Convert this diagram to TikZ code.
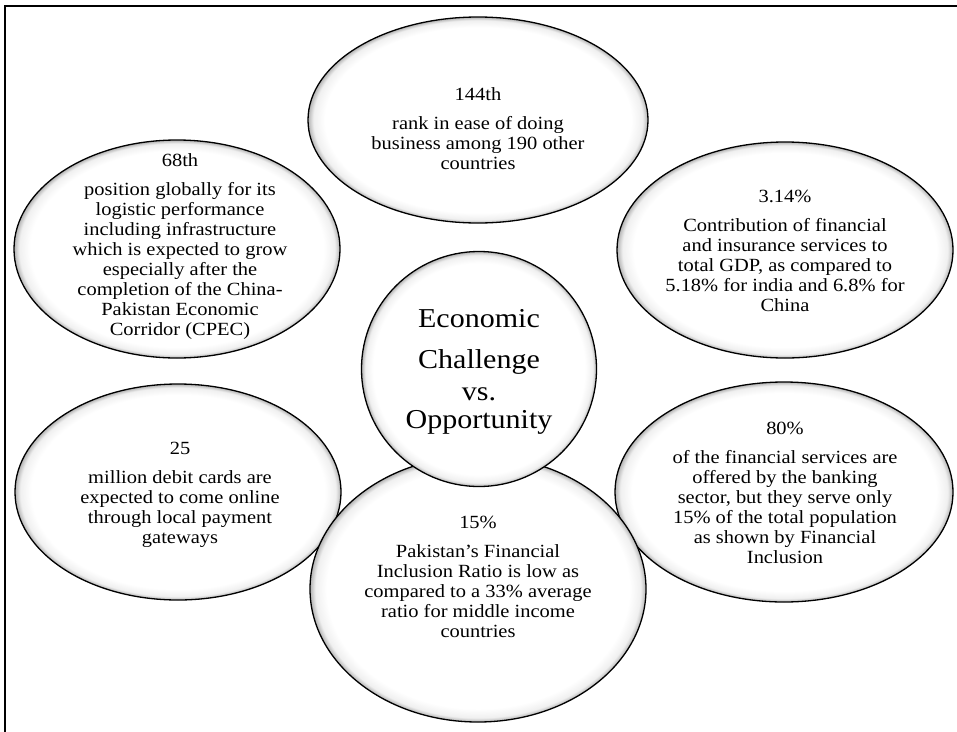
\documentclass[tikz,border=0pt]{standalone}
\usepackage{fontspec}
\setmainfont{Liberation Serif}[FakeStretch=1.1]
\usetikzlibrary{shapes.geometric}
\pgfdeclareradialshading{softglow}{\pgfpoint{0bp}{0bp}}{color(0bp)=(white);color(22.5bp)=(white);color(24.2bp)=(black!6);color(25bp)=(black!30);color(50bp)=(black!30)}
\tikzset{
  bubble/.style={ellipse, draw=black, line width=1.3pt, shading=softglow, inner sep=0pt},
  txt/.style={align=center, inner sep=0pt, font=\fontsize{18.6}{20}\selectfont},
  bigtxt/.style={align=center, inner sep=0pt, font=\fontsize{27.3}{28}\selectfont},
  frame/.style={line width=2pt, line cap=rect}
}
\begin{document}
\begin{tikzpicture}[x=1pt,y=-1pt]
\useasboundingbox (0,0) rectangle (957,731);
\coordinate (fa) at (5,731);
\coordinate (fb) at (5,5.5);
\coordinate (fc) at (957,5.5);
\draw[frame] (fa) -- (fb) -- (fc);

\node[bubble, minimum width=340pt, minimum height=206pt] (etop) at (478,120) {};
\node[bubble, minimum width=326pt, minimum height=218pt] (e68) at (177,249) {};
\node[bubble, minimum width=336pt, minimum height=216pt] (e314) at (785,250) {};
\node[bubble, minimum width=326pt, minimum height=216pt] (e25) at (178,492) {};
\node[bubble, minimum width=338pt, minimum height=220pt] (e80) at (784,492) {};
\node[bubble, minimum width=336pt, minimum height=266pt] (e15) at (478,589) {};
\node[bubble, circle, minimum size=235pt] (ecen) at (479,369) {};

\node[txt] (ttop) at (478,129) {144th\\[9pt]rank in ease of doing\\business among 190 other\\countries};
\node[txt] (t68) at (180,247) {68th\\[9pt]position globally for its\\logistic performance\\including infrastructure\\which is expected to grow\\especially after the\\completion of the China-\\Pakistan Economic\\Corridor (CPEC)};
\node[txt] (t314) at (785,251) {3.14\%\\[9pt]Contribution of financial\\and insurance services to\\total GDP, as compared to\\5.18\% for india and 6.8\% for\\China};
\node[txt] (t25) at (180,495) {25\\[9pt]million debit cards are\\expected to come online\\through local payment\\gateways};
\node[txt] (t80) at (785,493) {80\%\\[9pt]of the financial services are\\offered by the banking\\sector, but they serve only\\15\% of the total population\\as shown by Financial\\Inclusion};
\node[txt] (t15) at (478,577) {15\%\\[9pt]Pakistan's Financial\\Inclusion Ratio is low as\\compared to a 33\% average\\ratio for middle income\\countries};
\node[bigtxt] (tcen) at (479,372) {Economic\\[13pt]Challenge\\[4pt]vs.\\Opportunity};
\end{tikzpicture}
\end{document}
